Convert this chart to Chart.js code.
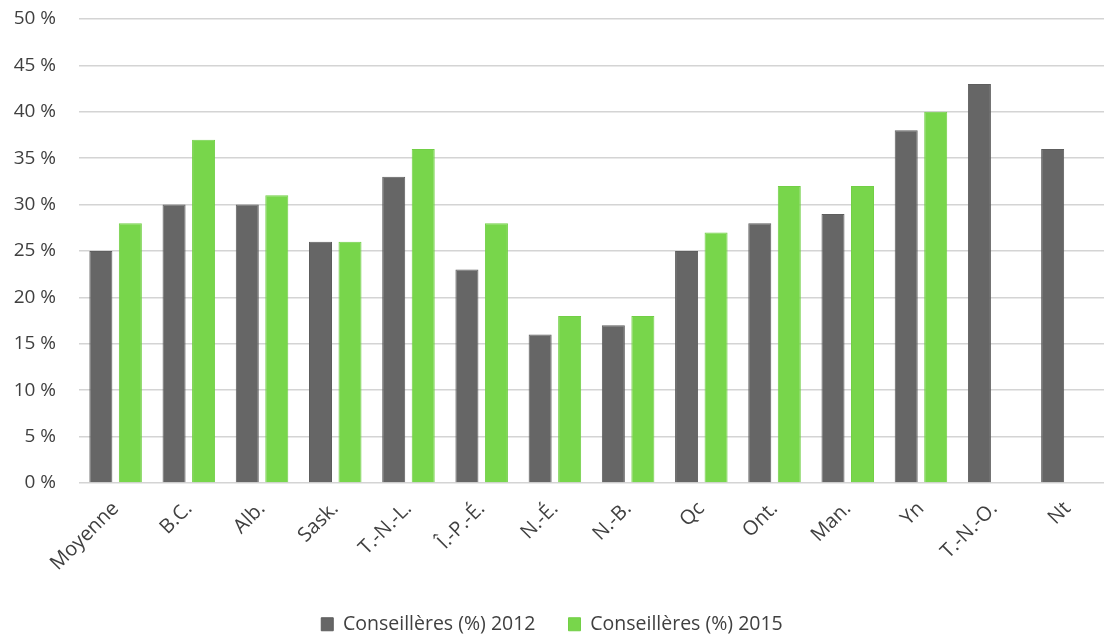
<!DOCTYPE html>
<html>
<head>
<meta charset="utf-8">
<script src="https://cdn.jsdelivr.net/npm/chart.js@4"></script>
<style>
html,body{margin:0;padding:0;background:#fff;}
#wrap{width:1107px;height:637px;position:relative;}
</style>
</head>
<body>
<div id="wrap"><canvas id="c"></canvas></div>
<script>
const categories = ["Moyenne","B.C.","Alb.","Sask.","T.-N.-L.","Î.-P.-É.","N.-É.","N.-B.","Qc","Ont.","Man.","Yn","T.-N.-O.","Nt"];
const values2012 = [25,30,30,26,33,23,16,17,25,28,29,38,43,36];
const values2015 = [28,37,31,26,36,28,18,18,27,32,32,40,null,null];
const seriesNames = ["Conseillères (%) 2012","Conseillères (%) 2015"];
const yTicks = [0,5,10,15,20,25,30,35,40,45,50];

const txt = '#404040';
const fontFam = '"Open Sans", "Noto Sans", sans-serif';
new Chart(document.getElementById('c'), {
  type: 'bar',
  data: {
    labels: categories,
    datasets: [
      {label: seriesNames[0], data: values2012, backgroundColor: '#666666', borderColor: '#5e5e5e', borderWidth: 1,
       barPercentage: 0.78, categoryPercentage: 0.806},
      {label: seriesNames[1], data: values2015, backgroundColor: '#78d64b', borderColor: '#72cf46', borderWidth: 1,
       barPercentage: 0.78, categoryPercentage: 0.806}
    ]
  },
  options: {
    responsive: true,
    maintainAspectRatio: false,
    animation: false,
    layout: {padding: {top: 0, right: 3, left: 0, bottom: -7}},
    plugins: {
      legend: {
        position: 'bottom',
        labels: {boxWidth: 12, boxHeight: 13, color: txt, font: {family: fontFam, size: 19.5}, padding: 33}
      },
      tooltip: {enabled: false}
    },
    scales: {
      x: {
        afterFit: (s) => { s.paddingLeft = 0; s.paddingRight = 0; },
        grid: {display: false},
        border: {display: false},
        ticks: {color: txt, font: {family: fontFam, size: 20}, minRotation: 45, maxRotation: 45, padding: 6}
      },
      y: {
        min: 0, max: 50,
        afterBuildTicks: (ax) => { ax.ticks = yTicks.map(v => ({value: v})); },
        afterFit: (s) => { s.paddingTop = 19; s.paddingBottom = 11; s.width = 79; },
        grid: {color: '#d4d4d4', lineWidth: 1.5, drawTicks: false},
        border: {display: false},
        ticks: {color: txt, font: {family: fontFam, size: 19}, padding: 23, callback: v => v + ' %'}
      }
    }
  }
});
</script>
</body>
</html>
